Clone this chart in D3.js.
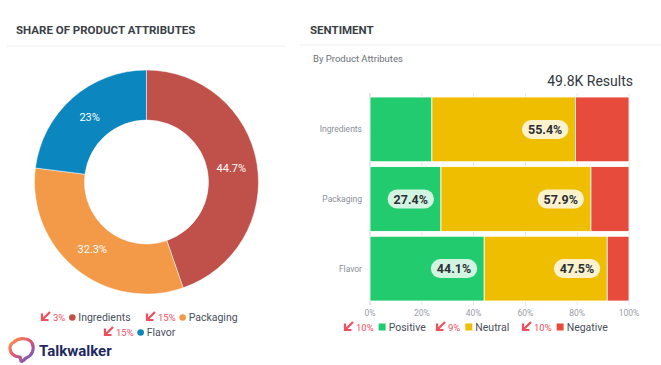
<!DOCTYPE html>
<html>
<head>
<meta charset="utf-8">
<script src="https://cdn.jsdelivr.net/npm/d3@7"></script>
<style>
  body { margin: 0; background: #fff; font-family: Roboto, "Noto Sans", sans-serif; }
  svg { display: block; }
</style>
</head>
<body>
<script>
const width = 661
const height = 365

// share of product attributes
const attributes = ['Ingredients', 'Packaging', 'Flavor']
const shareValues = [44.7, 32.3, 23]
const shareLabels = ['44.7%', '32.3%', '23%']
const shareChanges = ['3%', '15%', '15%']
const shareColors = ['#C0504A', '#F39A48', '#0C86BE']

// sentiment by product attributes
const sentiments = ['Positive', 'Neutral', 'Negative']
const positive = [23.9, 27.4, 44.1]
const neutral = [55.4, 57.9, 47.5]
const negative = [20.7, 14.7, 8.4]
const shownLabels = [[false, true, false], [true, true, false], [true, true, false]]
const sentimentChanges = ['10%', '9%', '10%']
const sentimentColors = ['#22CC6E', '#F0BE00', '#E64B3C']
const xTicks = [0, 20, 40, 60, 80, 100]
const totalResults = '49.8K Results'

const svg = d3.select('body').append('svg')
  .attr('width', width)
  .attr('height', height)

// headers
svg.append('text').attr('x', 16).attr('y', 34)
  .style('font-size', '11.5px').style('font-weight', 700).style('fill', '#3a3f47')
  .text('SHARE OF PRODUCT ATTRIBUTES')
svg.append('line').attr('x1', 7).attr('x2', 286).attr('y1', 46).attr('y2', 46)
  .style('stroke', '#eceef0')
svg.append('text').attr('x', 310).attr('y', 34)
  .style('font-size', '11.5px').style('font-weight', 700).style('fill', '#3a3f47')
  .text('SENTIMENT')
svg.append('line').attr('x1', 300).attr('x2', 661).attr('y1', 45).attr('y2', 45)
  .style('stroke', '#eceef0')
svg.append('text').attr('x', 313).attr('y', 62)
  .style('font-size', '9.5px').style('fill', '#6b7079')
  .text('By Product Attributes')
svg.append('text').attr('x', 633).attr('y', 86).attr('text-anchor', 'end')
  .style('font-size', '14px').style('fill', '#33373d')
  .text(totalResults)

// donut
const donut = svg.append('g').attr('transform', 'translate(146.5, 182)')
const pie = d3.pie().value(d => d).sort(null)
const arc = d3.arc().outerRadius(112).innerRadius(62)
const labelArc = d3.arc().outerRadius(108).innerRadius(64)
const slices = pie(shareValues)

donut.selectAll('path').data(slices).enter().append('path')
  .attr('d', arc)
  .style('fill', (d, i) => shareColors[i])
  .style('stroke', '#fff')
  .style('stroke-width', 0.5)

donut.selectAll('text').data(slices).enter().append('text')
  .attr('transform', d => `translate(${labelArc.centroid(d)})`)
  .attr('text-anchor', 'middle')
  .attr('dy', '0.35em')
  .style('fill', '#fff')
  .style('font-size', '11px')
  .text((d, i) => shareLabels[i])

// little red "down" arrow
function downArrow (g, x, y) {
  g.append('path')
    .attr('d', `M${x + 8},${y - 8} L${x + 1},${y - 1} M${x},${y - 6.5} L${x},${y} L${x + 6.5},${y}`)
    .style('fill', 'none')
    .style('stroke', '#EF4F5F')
    .style('stroke-width', 2.2)
}

// donut legend
const donutLegend = [
  { x: 42, y: 321 },
  { x: 147, y: 321 },
  { x: 105, y: 336 }
]
attributes.forEach((name, i) => {
  const p = donutLegend[i]
  const g = svg.append('g')
  downArrow(g, p.x, p.y - 1)
  const pct = g.append('text').attr('x', p.x + 11).attr('y', p.y)
    .style('font-size', '9.5px').style('fill', '#EF4F5F')
    .text(shareChanges[i])
  const w = pct.node().getComputedTextLength()
  g.append('circle').attr('cx', p.x + 11 + w + 7).attr('cy', p.y - 3.5).attr('r', 3.3)
    .style('fill', shareColors[i])
  g.append('text').attr('x', p.x + 11 + w + 13).attr('y', p.y)
    .style('font-size', '10.5px').style('fill', '#4a4f5c')
    .text(name)
})

// stacked bars
const x = d3.scaleLinear().domain([0, 100]).range([370, 629])
const y = d3.scaleBand().domain(attributes).range([97, 301]).paddingInner(0.07)

const grid = svg.append('g')
grid.selectAll('line').data(xTicks).enter().append('line')
  .attr('x1', d => x(d)).attr('x2', d => x(d))
  .attr('y1', 93).attr('y2', 305)
  .style('stroke', d => d === 0 ? '#c8ccd2' : '#e3e6ea')

const stackRows = attributes.map((name, i) => ({
  name, Positive: positive[i], Neutral: neutral[i], Negative: negative[i]
}))
const series = d3.stack().keys(sentiments)(stackRows)

const layers = svg.selectAll('g.layer').data(series).enter().append('g')
  .attr('class', 'layer')
  .style('fill', (d, i) => sentimentColors[i])

layers.selectAll('rect').data(d => d).enter().append('rect')
  .attr('x', d => x(d[0]))
  .attr('y', d => y(d.data.name))
  .attr('width', d => x(d[1]) - x(d[0]))
  .attr('height', y.bandwidth())
  .style('stroke', '#fff')
  .style('stroke-width', 0.8)

// value pills
series.forEach((s, si) => {
  s.forEach((d, ri) => {
    if (!shownLabels[ri][si]) return
    const value = d[1] - d[0]
    const right = x(d[1]) - 7
    const cy = y(d.data.name) + y.bandwidth() / 2
    const g = svg.append('g')
    const t = g.append('text')
      .attr('x', right - 6).attr('y', cy).attr('dy', '0.36em')
      .attr('text-anchor', 'end')
      .style('font-size', '12.5px').style('font-weight', 700).style('fill', '#2b2f36')
      .text(value.toFixed(1) + '%')
    const w = t.node().getComputedTextLength()
    g.insert('rect', 'text')
      .attr('x', right - w - 12).attr('y', cy - 9.5)
      .attr('width', w + 12).attr('height', 19)
      .attr('rx', 9.5)
      .style('fill', 'rgba(255,255,255,0.8)')
  })
})

// y labels
svg.selectAll('text.ylab').data(attributes).enter().append('text')
  .attr('class', 'ylab')
  .attr('x', 362)
  .attr('y', d => y(d) + y.bandwidth() / 2)
  .attr('dy', '0.35em')
  .attr('text-anchor', 'end')
  .style('font-size', '8.5px').style('fill', '#8a8f97')
  .text(d => d)

// x tick labels
svg.selectAll('text.xlab').data(xTicks).enter().append('text')
  .attr('class', 'xlab')
  .attr('x', d => x(d))
  .attr('y', 316)
  .attr('text-anchor', 'middle')
  .style('font-size', '8.5px').style('fill', '#9a9ea5')
  .text(d => d + '%')

// sentiment legend
const sentLegendX = [345, 437, 523]
sentiments.forEach((name, i) => {
  const lx = sentLegendX[i]
  const ly = 331
  const g = svg.append('g')
  downArrow(g, lx, ly - 1)
  const pct = g.append('text').attr('x', lx + 11).attr('y', ly)
    .style('font-size', '9.5px').style('fill', '#EF4F5F')
    .text(sentimentChanges[i])
  const w = pct.node().getComputedTextLength()
  g.append('rect').attr('x', lx + 11 + w + 5).attr('y', ly - 7.5).attr('width', 7).attr('height', 7)
    .style('fill', sentimentColors[i])
  g.append('text').attr('x', lx + 11 + w + 15).attr('y', ly)
    .style('font-size', '10.5px').style('fill', '#4a4f5c')
    .text(name)
})

// Talkwalker logo
const defs = svg.append('defs')
const grad = defs.append('linearGradient').attr('id', 'tw')
  .attr('x1', 0).attr('y1', 0).attr('x2', 1).attr('y2', 1)
grad.append('stop').attr('offset', '0%').attr('stop-color', '#F6A04D')
grad.append('stop').attr('offset', '45%').attr('stop-color', '#E8506A')
grad.append('stop').attr('offset', '100%').attr('stop-color', '#5B5BD6')
svg.append('path')
  .attr('d', 'M14,342 C19,337 29,338 32,343 C35,349 32,356 26,358 C24,360 22,362 21,361 L20,357 C14,357 10,353 10,348 C10,345 12,343 14,342 Z')
  .style('fill', 'none')
  .style('stroke', 'url(#tw)')
  .style('stroke-width', 3.2)
svg.append('text').attr('x', 39).attr('y', 356)
  .style('font-size', '15px').style('font-weight', 700).style('fill', '#1E2A5E')
  .text('Talkwalker')
</script>
</body>
</html>
